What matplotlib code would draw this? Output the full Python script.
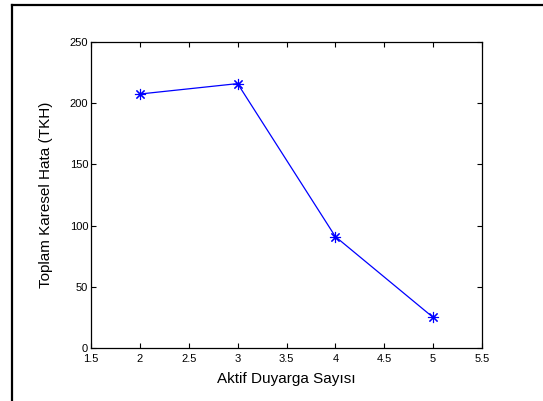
import matplotlib
matplotlib.use("Agg")
import matplotlib.pyplot as plt
from matplotlib.lines import Line2D

# aktif duyarga sayisi vs toplam karesel hata
sensors = [2, 3, 4, 5]
tkh = [207.5, 216, 91, 25]

xticks = [1.5, 2, 2.5, 3, 3.5, 4, 4.5, 5, 5.5]
xtick_labels = ["1.5", "2", "2.5", "3", "3.5", "4", "4.5", "5", "5.5"]
yticks = [0, 50, 100, 150, 200, 250]

plt.rcParams['font.family'] = ['Liberation Sans', 'DejaVu Sans']

fig = plt.figure(figsize=(5.43, 4.01), dpi=100)
W, H = 543, 401

# outer frame (only top and left visible in the crop)
fig.add_artist(Line2D([12 / W, 1], [1 - 4.5 / H, 1 - 4.5 / H], color="black", lw=1.6,
                      transform=fig.transFigure))
fig.add_artist(Line2D([12 / W, 12 / W], [0, 1 - 4.5 / H], color="black", lw=1.6,
                      transform=fig.transFigure))

ax = fig.add_axes([91 / W, 1 - 348 / H, (482 - 91) / W, (348 - 42) / H])
ax.plot(sensors, tkh, color="blue", lw=0.9, marker=(8, 2, 0), markersize=8,
        markeredgewidth=0.8)

ax.set_xlim(1.5, 5.5)
ax.set_ylim(0, 250)
ax.set_xticks(xticks)
ax.set_xticklabels(xtick_labels)
ax.set_yticks(yticks)
ax.tick_params(direction="in", length=3.5, width=0.8, labelsize=8,
               top=True, right=True)
ax.tick_params(axis="x", pad=4)
ax.tick_params(axis="y", pad=2)
for s in ax.spines.values():
    s.set_linewidth(0.9)

ax.set_xlabel("Aktif Duyarga Sayısı", fontsize=11, labelpad=6)
ax.set_ylabel("Toplam Karesel Hata (TKH)", fontsize=11, labelpad=12)

fig.savefig("out.png", dpi=100)
